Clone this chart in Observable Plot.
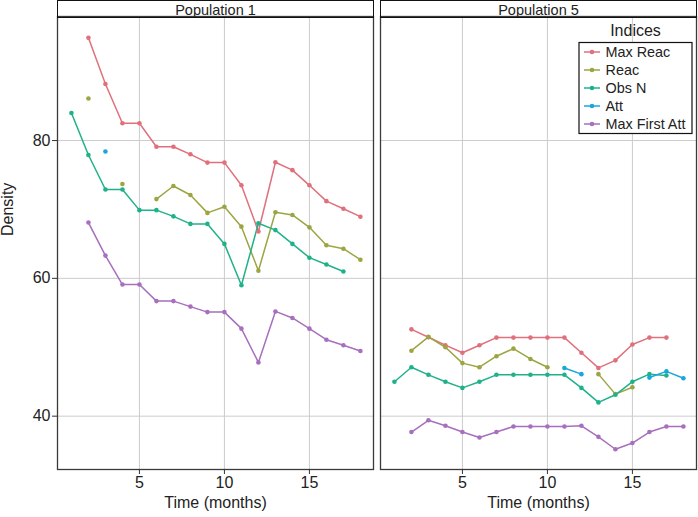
<!DOCTYPE html>
<html><head><meta charset="utf-8">
<script src="https://cdn.jsdelivr.net/npm/d3@7"></script>
<script src="https://cdn.jsdelivr.net/npm/@observablehq/plot@0.6"></script>
<style>
body{margin:0;background:#fff;font-family:"Liberation Sans",Arial,sans-serif;}
#wrap{position:relative;width:698px;height:517px;overflow:hidden;}
#wrap svg.plot{position:absolute;left:0;top:0;}
.strip{position:absolute;border:1.3px solid #111;box-sizing:border-box;pointer-events:none;}
#legend{position:absolute;left:0;top:0;pointer-events:none;}
</style></head><body><div id="wrap"></div>
<script>
// ---- data ----
const months = [1,2,3,4,5,6,7,8,9,10,11,12,13,14,15,16,17,18];
const populations = ["Population 1","Population 5"];
const series = ["Max Reac","Reac","Obs N","Att","Max First Att"];
const colors = ["#E0707C","#9DA542","#1FB28A","#1BA7DA","#A76FBE"];
const xTicks = [5,10,15];
const yTicks = [40,60,80];
const xTitle = "Time (months)";
const yTitle = "Density";
const legendTitle = "Indices";

const pop1MaxReac   = [null,94.9,88.2,82.5,82.5,79.1,79.1,78.0,76.8,76.8,73.5,66.8,76.85,75.7,73.5,71.2,70.1,68.95];
const pop1Reac      = [null,86.1,null,73.7,null,71.5,73.4,72.1,69.5,70.4,67.5,61.1,69.6,69.2,67.4,64.8,64.3,62.7];
const pop1ObsN      = [84.0,77.9,72.9,72.9,69.9,69.9,69.0,67.9,67.9,65.0,59.0,68.0,67.0,65.0,63.0,62.0,61.0,null];
const pop1Att       = [null,null,78.4,null,null,null,null,null,null,null,null,null,null,null,null,null,null,null];
const pop1MaxFirst  = [null,68.1,63.3,59.1,59.1,56.7,56.7,55.9,55.1,55.1,52.7,47.8,55.2,54.25,52.7,51.1,50.3,49.45];

const pop5MaxReac   = [null,52.6,51.45,50.3,49.2,50.3,51.4,51.4,51.4,51.4,51.4,49.2,47.0,48.1,50.4,51.4,51.4,null];
const pop5Reac      = [null,49.5,51.5,50.0,47.7,47.1,48.7,49.8,48.3,47.1,null,null,46.1,43.2,44.2,null,null,null];
const pop5ObsN      = [45.0,47.1,46.0,45.0,44.1,45.0,46.0,46.0,46.0,46.0,46.0,44.1,42.0,43.1,45.0,46.1,45.9,null];
const pop5Att       = [null,null,null,null,null,null,null,null,null,null,47.0,46.1,null,null,null,45.6,46.5,45.5];
const pop5MaxFirst  = [null,37.7,39.4,38.6,37.7,36.9,37.7,38.5,38.5,38.5,38.5,38.6,37.0,35.2,36.1,37.7,38.5,38.5];

const valuesByPop = {
  "Population 1": [pop1MaxReac, pop1Reac, pop1ObsN, pop1Att, pop1MaxFirst],
  "Population 5": [pop5MaxReac, pop5Reac, pop5ObsN, pop5Att, pop5MaxFirst]
};

// ---- table ----
const rows = [];
for (const pop of populations) {
  series.forEach((s, si) => {
    months.forEach((m, mi) => {
      rows.push({pop, series: s, month: m, value: valuesByPop[pop][si][mi]});
    });
  });
}
const pts = rows.filter(d => d.value != null);
const yTitleData = [{pop: populations[0], t: yTitle}];

const chart = Plot.plot({
  width: 698, height: 517,
  marginTop: 16, marginBottom: 48, marginLeft: 57, marginRight: 2,
  style: {fontFamily: "'Liberation Sans', Arial, sans-serif", background: "transparent", color: "#222", overflow: "visible"},
  x: {domain: [0.18, 18.77]},
  y: {domain: [32.26, 98.0]},
  fx: {domain: populations, paddingInner: 0.022, paddingOuter: 0},
  color: {domain: series, range: colors},
  marks: [
    Plot.gridX(xTicks, {stroke: "#cccccc", strokeOpacity: 1, strokeWidth: 1}),
    Plot.gridY(yTicks, {stroke: "#cccccc", strokeOpacity: 1, strokeWidth: 1}),
    Plot.frame({stroke: "#3a3a3a", strokeWidth: 1.3}),
    Plot.axisX(xTicks, {tickSize: 5, tickPadding: 2, fontSize: 16, label: null, stroke: "#333"}),
    Plot.axisY(yTicks, {tickSize: 5, tickPadding: 2, fontSize: 16, label: null, stroke: "#333"}),
    Plot.axisFx({anchor: "top", tickSize: 0, tickPadding: 2, fontSize: 14.5, label: null}),
    Plot.text([xTitle], {text: d => d, frameAnchor: "bottom", dy: 38, fontSize: 16}),
    Plot.text(yTitleData, {fx: "pop", text: "t", frameAnchor: "left", rotate: -90, dx: -50, dy: -7, fontSize: 16}),
    Plot.line(rows, {x: "month", y: "value", z: "series", stroke: "series", fx: "pop", strokeWidth: 1.5}),
    Plot.dot(pts, {x: "month", y: "value", fill: "series", fx: "pop", r: 2.3})
  ]
});
const wrap = document.getElementById("wrap");
wrap.appendChild(chart);

// strips above each facet frame
const wb = wrap.getBoundingClientRect();
chart.querySelectorAll('g[aria-label="frame"] rect').forEach(r => {
  const b = r.getBoundingClientRect();
  const div = document.createElement("div");
  div.className = "strip";
  div.style.left = (b.left - wb.left - 0.6) + "px";
  div.style.top = "0px";
  div.style.width = (b.width + 1.2) + "px";
  div.style.height = (b.top - wb.top + 1) + "px";
  wrap.appendChild(div);
});

// legend
const lg = d3.select(wrap).append("svg").attr("id", "legend").attr("width", 698).attr("height", 517)
  .style("font-family", "'Liberation Sans', Arial, sans-serif");
const bx = 579, by = 42.5, bw = 113, bh = 91, rowH = 18, row0 = 52;
lg.append("text").attr("x", bx + bw / 2).attr("y", 30).attr("text-anchor", "middle")
  .attr("dominant-baseline", "central").attr("font-size", 16).attr("fill", "#222").text(legendTitle);
lg.append("rect").attr("x", bx).attr("y", by).attr("width", bw).attr("height", bh)
  .attr("fill", "#fff").attr("stroke", "#111").attr("stroke-width", 1.2);
series.forEach((s, i) => {
  const y = row0 + i * rowH;
  lg.append("line").attr("x1", 584).attr("x2", 600).attr("y1", y).attr("y2", y)
    .attr("stroke", colors[i]).attr("stroke-width", 1.5);
  lg.append("circle").attr("cx", 592).attr("cy", y).attr("r", 2.3).attr("fill", colors[i]);
  lg.append("text").attr("x", 605.5).attr("y", y).attr("dominant-baseline", "central")
    .attr("font-size", 14.4).attr("fill", "#222").text(s);
});
</script>
</body></html>
